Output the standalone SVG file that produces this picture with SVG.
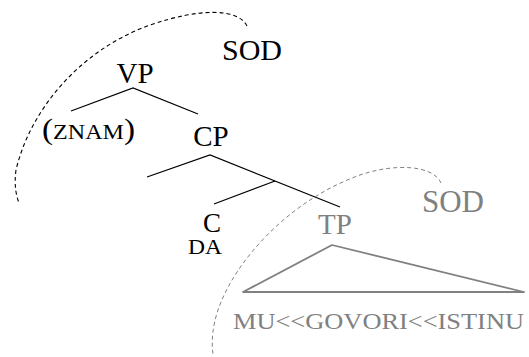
<svg xmlns="http://www.w3.org/2000/svg" width="529" height="357" viewBox="0 0 529 357">
  <style>
    text { font-family: "Liberation Serif", "Times New Roman", serif; text-anchor: middle; }
    .blk { fill: #000; }
    .gry { fill: #808080; }
    .edge { stroke: #000; stroke-width: 1.3; fill: none; }
    .gedge { stroke: #808080; stroke-width: 1.8; fill: none; stroke-linejoin: round; }
    .arc { stroke: #000; stroke-width: 1.1; fill: none; stroke-dasharray: 4 3; }
    .garc { stroke: #808080; stroke-width: 1; fill: none; stroke-dasharray: 4 3; }
  </style>

  <!-- tree branches and movement arcs -->
  <g id="connectors">
    <path class="edge" d="M71,111 L133,88 L198,114"/>
    <path class="edge" d="M147,177 L210,155 L340,207"/>
    <path class="edge" d="M275,181 L214,204"/>
    <path class="gedge" d="M332,245 L243,292 L524,292 Z"/>
    <path class="arc" d="M247,26 C238,8 200,8 150,25 C80,50 30,110 16,170 C14,185 16,195 19,203"/>
    <path class="garc" d="M441,183 C433,165 395,163 360,175 C290,200 235,260 218,310 C213,325 211,340 213,354"/>
  </g>

  <g id="sod-top"><text class="blk" x="252" y="60" font-size="30">SOD</text></g>
  <g id="vp"><text class="blk" x="135" y="83" font-size="29">VP</text></g>
  <g id="znam">
    <text class="blk" x="42" y="139" textLength="93" lengthAdjust="spacingAndGlyphs" style="text-anchor:start"><tspan font-size="29">(</tspan><tspan font-size="21">ZNAM</tspan><tspan font-size="29">)</tspan></text>
  </g>
  <g id="cp"><text class="blk" x="211" y="146" font-size="29">CP</text></g>
  <g id="c">
    <text class="blk" x="212" y="232" font-size="27">C</text>
    <text class="blk" x="205" y="254" font-size="22" textLength="34" lengthAdjust="spacingAndGlyphs">DA</text>
  </g>
  <g id="tp"><text class="gry" x="335" y="234" font-size="29">TP</text></g>
  <g id="sod-low"><text class="gry" x="453" y="212" font-size="31">SOD</text></g>
  <g id="tp-content">
    <text class="gry" x="233" y="329" font-size="24" textLength="291" lengthAdjust="spacingAndGlyphs" style="text-anchor:start">MU&lt;&lt;GOVORI&lt;&lt;ISTINU</text>
  </g>
</svg>
